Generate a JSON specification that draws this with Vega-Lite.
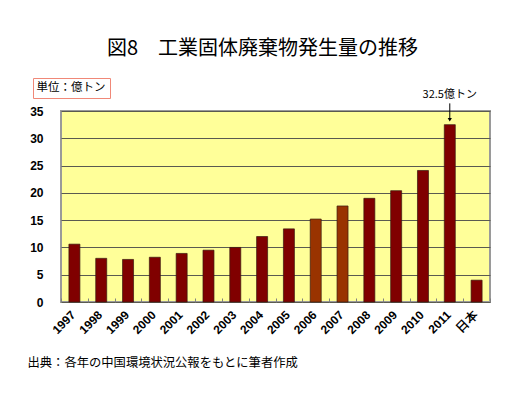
{
  "$schema": "https://vega.github.io/schema/vega-lite/v6.json",
  "width": 429,
  "height": 191,
  "autosize": "none",
  "padding": {"left": 61, "top": 111, "right": 35, "bottom": 92},
  "background": "white",
  "view": {"fill": "#FFFF99", "stroke": "#9a9a9a", "strokeWidth": 2},
  "title": {
    "text": "図8　工業固体廃棄物発生量の推移",
    "font": "Noto Sans CJK JP",
    "fontSize": 20,
    "fontWeight": "normal",
    "color": "#000000",
    "anchor": "middle",
    "dx": -13,
    "offset": 19
  },
  "config": {
    "axisY": {
      "tickCount": 7,
      "labelOverlap": false,
      "grid": true,
      "gridColor": "#5a5a50",
      "gridWidth": 1,
      "domain": false,
      "ticks": false,
      "labelFont": "Liberation Sans",
      "labelFontWeight": "bold",
      "labelFontSize": 12,
      "labelColor": "#000000",
      "labelPadding": 18
    },
    "axisX": {
      "labelAngle": -45,
      "labelAlign": "right",
      "labelBaseline": "top",
      "labelFont": "Liberation Sans",
      "labelFontWeight": "bold",
      "labelFontSize": 12,
      "labelColor": "#000000",
      "labelPadding": 11,
      "labelOffset": -5,
      "tickBand": "extent",
      "tickSize": -4,
      "tickColor": "#808080",
      "domain": false,
      "grid": false
    }
  },
  "datasets": {
    "main": [
      {"year": "1997", "value": 10.6, "kind": "a"},
      {"year": "1998", "value": 8.0, "kind": "a"},
      {"year": "1999", "value": 7.8, "kind": "a"},
      {"year": "2000", "value": 8.2, "kind": "a"},
      {"year": "2001", "value": 8.9, "kind": "a"},
      {"year": "2002", "value": 9.5, "kind": "a"},
      {"year": "2003", "value": 10.0, "kind": "a"},
      {"year": "2004", "value": 12.0, "kind": "a"},
      {"year": "2005", "value": 13.4, "kind": "a"},
      {"year": "2006", "value": 15.2, "kind": "b"},
      {"year": "2007", "value": 17.6, "kind": "b"},
      {"year": "2008", "value": 19.0, "kind": "a"},
      {"year": "2009", "value": 20.4, "kind": "a"},
      {"year": "2010", "value": 24.1, "kind": "a"},
      {"year": "2011", "value": 32.5, "kind": "a"},
      {"year": "日本", "value": 4.0, "kind": "a"}
    ]
  },
  "layer": [
    {
      "data": {"name": "main"},
      "mark": {"type": "bar", "size": 11, "stroke": "#3a1a10", "strokeWidth": 0.7},
      "encoding": {
        "x": {
          "field": "year", "type": "nominal", "sort": null,
          "scale": {"paddingInner": 0, "paddingOuter": 0},
          "axis": {
            "title": "出典：各年の中国環境状況公報をもとに筆者作成",
            "titleFont": "Noto Sans CJK JP",
            "titleFontSize": 12.3,
            "titleFontWeight": "normal",
            "titleColor": "#000000",
            "titleAnchor": "start",
            "titleAlign": "left",
            "titleBaseline": "middle",
            "titleX": -34,
            "titleY": 60
          }
        },
        "y": {
          "field": "value", "type": "quantitative",
          "scale": {"domain": [0, 35], "nice": false},
          "axis": {"title": null}
        },
        "color": {
          "field": "kind", "type": "nominal",
          "scale": {"domain": ["a", "b"], "range": ["#800000", "#993300"]},
          "legend": null
        }
      }
    },
    {
      "data": {"values": [{"year": "2011", "label": "32.5億トン"}]},
      "mark": {"type": "text", "font": "Noto Sans CJK JP", "fontSize": 11, "baseline": "bottom", "dy": -2, "color": "#000000"},
      "encoding": {
        "x": {"field": "year", "type": "nominal", "sort": null},
        "y": {"datum": 36.6},
        "text": {"field": "label"}
      }
    },
    {
      "data": {"values": [{"year": "2011"}]},
      "mark": {"type": "rule", "color": "#000000", "strokeWidth": 1},
      "encoding": {
        "x": {"field": "year", "type": "nominal", "sort": null},
        "y": {"datum": 36.4},
        "y2": {"datum": 33.4}
      }
    },
    {
      "data": {"values": [{"year": "2011"}]},
      "mark": {"type": "point", "shape": "triangle-down", "filled": true, "color": "#000000", "size": 18, "opacity": 1},
      "encoding": {
        "x": {"field": "year", "type": "nominal", "sort": null},
        "y": {"datum": 33.4}
      }
    },
    {
      "data": {"values": [{"u": "単位：億トン"}]},
      "mark": {"type": "point", "opacity": 0, "size": 0},
      "encoding": {
        "shape": {
          "field": "u", "type": "nominal",
          "legend": {
            "orient": "none",
            "legendX": -28,
            "legendY": -33,
            "title": null,
            "strokeColor": "#F08878",
            "padding": 4,
            "symbolOpacity": 0,
            "symbolSize": 0,
            "symbolStrokeWidth": 0,
            "labelOffset": -12,
            "labelFont": "Noto Sans CJK JP",
            "labelFontSize": 11.5,
            "labelColor": "#000000"
          }
        }
      }
    }
  ]
}
